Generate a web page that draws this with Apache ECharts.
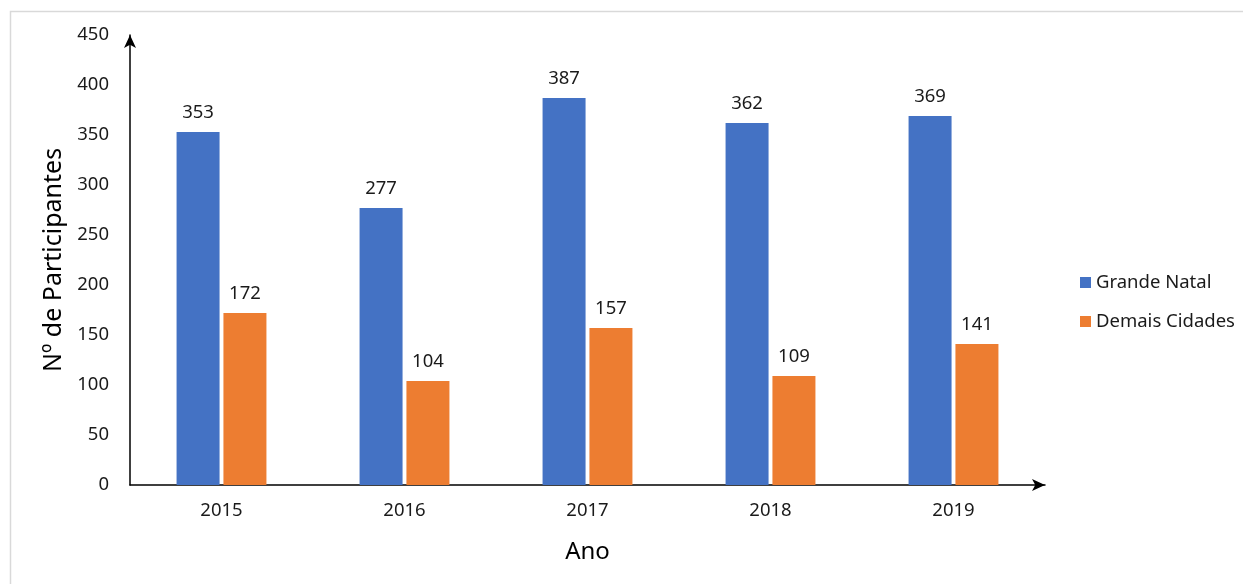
<!DOCTYPE html>
<html>
<head>
<meta charset="utf-8">
<script src="https://cdn.jsdelivr.net/npm/echarts@6/dist/echarts.min.js"></script>
<style>
  html, body { margin: 0; padding: 0; background: #fff; }
  #chart { width: 1243px; height: 584px; }
</style>
</head>
<body>
<div id="chart"></div>
<script>
const anos = ["2015", "2016", "2017", "2018", "2019"];
const grandeNatal = [353, 277, 387, 362, 369];
const demaisCidades = [172, 104, 157, 109, 141];

const fonte = "'Noto Sans', sans-serif";
const corTexto = "#1a1a1a";

const chart = echarts.init(document.getElementById("chart"));

const option = {
  animation: false,
  backgroundColor: "#fff",
  textStyle: { fontFamily: fonte },
  graphic: [
    {
      type: "rect",
      shape: { x: 10.5, y: 11.5, width: 1400, height: 700 },
      style: { fill: "none", stroke: "#d9d9d9", lineWidth: 1.5 },
      silent: true,
    },
  ],
  legend: {
    orient: "vertical",
    left: 1080,
    top: 273,
    padding: 0,
    itemWidth: 11,
    itemHeight: 11,
    itemGap: 20,
    icon: "rect",
    textStyle: { fontSize: 18.5, color: corTexto, fontFamily: fonte },
    data: ["Grande Natal", "Demais Cidades"],
  },
  grid: {
    left: 130,
    top: 35,
    width: 915,
    height: 450,
    containLabel: false,
  },
  xAxis: {
    type: "category",
    data: anos,
    name: "Ano",
    nameLocation: "middle",
    nameGap: 55,
    nameTextStyle: { fontSize: 24, color: "#000", fontFamily: fonte },
    axisLine: {
      show: true,
      symbol: ["none", "arrow"],
      symbolSize: [9, 13],
      lineStyle: { color: "#000", width: 1.5 },
    },
    axisTick: { show: false },
    axisLabel: { margin: 16, fontSize: 18.5, color: corTexto, fontFamily: fonte },
  },
  yAxis: {
    type: "value",
    min: 0,
    max: 450,
    interval: 50,
    name: "Nº de Participantes",
    nameLocation: "middle",
    nameGap: 61,
    nameTextStyle: { fontSize: 25, color: "#000", fontFamily: fonte },
    axisLine: {
      show: true,
      symbol: ["none", "arrow"],
      symbolSize: [9, 13],
      lineStyle: { color: "#000", width: 1.5 },
    },
    axisTick: { show: false },
    splitLine: { show: false },
    axisLabel: { margin: 21, fontSize: 18.5, color: corTexto, fontFamily: fonte },
  },
  series: [
    {
      name: "Grande Natal",
      type: "bar",
      data: grandeNatal,
      barWidth: 43,
      barGap: "9%",
      itemStyle: { color: "#4472C4" },
      label: {
        show: true,
        position: "top",
        distance: 10,
        fontSize: 18.5,
        color: corTexto,
        fontFamily: fonte,
      },
    },
    {
      name: "Demais Cidades",
      type: "bar",
      data: demaisCidades,
      barWidth: 43,
      barGap: "9%",
      itemStyle: { color: "#ED7D31" },
      label: {
        show: true,
        position: "top",
        distance: 10,
        fontSize: 18.5,
        color: corTexto,
        fontFamily: fonte,
      },
    },
  ],
};

chart.setOption(option);
</script>
</body>
</html>
